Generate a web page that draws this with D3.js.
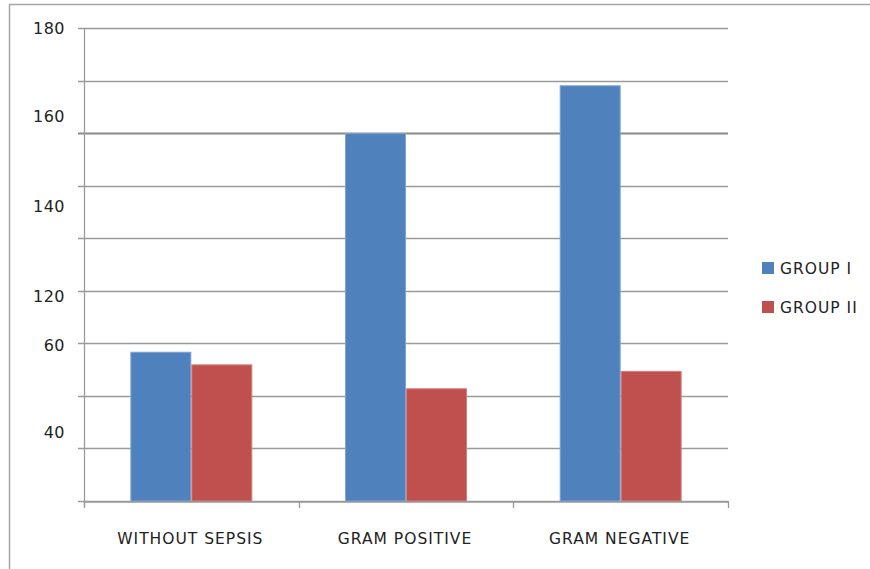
<!DOCTYPE html>
<html>
<head>
<meta charset="utf-8">
<script src="https://cdn.jsdelivr.net/npm/d3@7"></script>
<style>
  html, body { margin: 0; padding: 0; background: #fff; }
  svg { display: block; }
  text { font-family: "DejaVu Sans", Verdana, sans-serif; fill: #222; }
</style>
</head>
<body>
<svg id="chart" width="870" height="569"></svg>
<script>
// Categories and series
const categories = ["WITHOUT SEPSIS", "GRAM POSITIVE", "GRAM NEGATIVE"];
const seriesNames = ["GROUP I", "GROUP II"];
const groupI = [56.8, 140.0, 158.2];
const groupII = [52.0, 42.9, 49.5];
const seriesColors = ["#4F81BD", "#C0504D"];
const seriesEdges = ["#7FA3D2", "#D27F7D"];

// Value axis: gridlines every 20, labels as printed on the axis
const gridValues = [0, 20, 40, 60, 80, 100, 120, 140, 160, 180];
const yLabelText = ["180", "160", "140", "120", "60", "40"];
const yLabelAt = [180, 146.5, 112, 78, 59.4, 26.3];
const heavyGridValue = 140;

const svg = d3.select("#chart");
const W = 870, H = 569;
const plot = { left: 84, right: 728, top: 28, bottom: 501 };

// Outer frame (top and left edges)
svg.append("path")
  .attr("d", `M9.5,${H} L9.5,4.5 L${W},4.5`)
  .attr("fill", "none")
  .attr("stroke", "#A6A6A6")
  .attr("stroke-width", 1.5);

const y = d3.scaleLinear().domain([0, 180]).range([plot.bottom, plot.top]);
const x = d3.scaleBand().domain(categories).range([plot.left, plot.right]).padding(0);
const xs = d3.scaleBand().domain(seriesNames).range([0, x.bandwidth()])
  .paddingInner(0).paddingOuter(0.76);

// Horizontal gridlines with short ticks left of the axis
svg.append("g").selectAll("line")
  .data(gridValues)
  .join("line")
  .attr("x1", plot.left - 6)
  .attr("x2", plot.right)
  .attr("y1", d => Math.round(y(d)) + 0.5)
  .attr("y2", d => Math.round(y(d)) + 0.5)
  .attr("stroke", d => d === heavyGridValue ? "#8A8A8A" : "#9A9A9A")
  .attr("stroke-width", d => d === heavyGridValue ? 2.2 : 1.3);

// Bars
const rows = categories.map((c, i) => ({ cat: c, vals: [groupI[i], groupII[i]] }));
const groups = svg.append("g").selectAll("g")
  .data(rows)
  .join("g")
  .attr("transform", d => `translate(${x(d.cat)},0)`);

groups.selectAll("rect")
  .data(d => d.vals.map((v, j) => ({ v, j })))
  .join("rect")
  .attr("x", d => xs(seriesNames[d.j]) + 0.5)
  .attr("width", xs.bandwidth() - 1)
  .attr("y", d => y(d.v) + 0.5)
  .attr("height", d => y(0) - y(d.v) - 0.5)
  .attr("fill", d => seriesColors[d.j])
  .attr("stroke", d => seriesEdges[d.j])
  .attr("stroke-width", 1);

// Axis lines
svg.append("line")
  .attr("x1", plot.left + 0.5).attr("x2", plot.left + 0.5)
  .attr("y1", plot.top).attr("y2", plot.bottom + 6)
  .attr("stroke", "#9A9A9A").attr("stroke-width", 1.3);

const xAxis = d3.axisBottom(x).tickSize(0).tickFormat(d => d);
const xg = svg.append("g")
  .attr("transform", `translate(0,${Math.round(y(0)) + 0.5})`)
  .call(xAxis);
xg.select(".domain").attr("stroke", "#9A9A9A").attr("stroke-width", 1.3);
xg.selectAll("text")
  .attr("font-size", 15.5)
  .attr("dy", 0)
  .attr("y", 42)
  .attr("dx", -1)
  .style("letter-spacing", "1px")
  .style("font-family", "'DejaVu Sans', Verdana, sans-serif")
  .style("fill", "#222");

// Category boundary ticks
const bounds = categories.map(c => x(c)).concat([x(categories[categories.length - 1]) + x.bandwidth()]);
svg.append("g").selectAll("line")
  .data(bounds)
  .join("line")
  .attr("x1", d => Math.round(d) + 0.5)
  .attr("x2", d => Math.round(d) + 0.5)
  .attr("y1", plot.bottom)
  .attr("y2", plot.bottom + 7)
  .attr("stroke", "#9A9A9A").attr("stroke-width", 1.3);

// Value labels
svg.append("g").selectAll("text")
  .data(yLabelText)
  .join("text")
  .attr("x", 65)
  .attr("y", (d, i) => y(yLabelAt[i]))
  .attr("dy", "0.36em")
  .attr("text-anchor", "end")
  .attr("font-size", 16)
  .style("letter-spacing", "0.5px")
  .text(d => d);

// Legend
const legend = svg.append("g").attr("transform", "translate(762,262)");
const li = legend.selectAll("g")
  .data(seriesNames)
  .join("g")
  .attr("transform", (d, i) => `translate(0,${i * 39})`);
li.append("rect")
  .attr("width", 12).attr("height", 12)
  .attr("fill", (d, i) => seriesColors[i]);
li.append("text")
  .attr("x", 18).attr("y", 6)
  .attr("dy", "0.36em")
  .attr("font-size", 15.5)
  .style("letter-spacing", "1px")
  .text(d => d);
</script>
</body>
</html>
